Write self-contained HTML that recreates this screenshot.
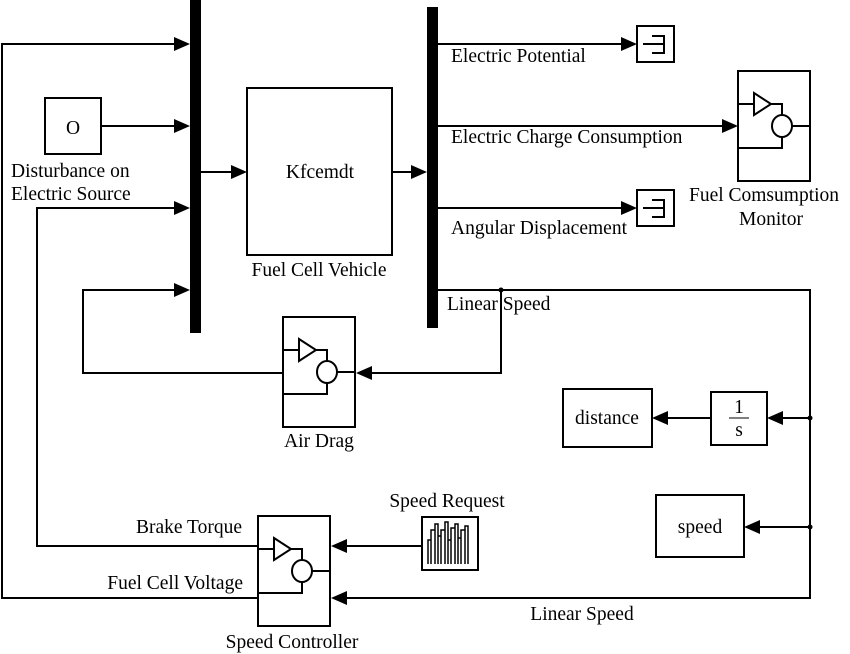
<!DOCTYPE html>
<html><head><meta charset="utf-8"><style>
html,body{margin:0;padding:0;background:#fff}
svg{display:block}
text{font-family:"Liberation Serif",serif;font-size:19.5px;fill:#000}
.m{text-anchor:middle}.e{text-anchor:end}
</style></head><body>
<svg width="850" height="654" viewBox="0 0 850 654" xmlns="http://www.w3.org/2000/svg">
<defs>
<g id="sub" fill="none" stroke="#000" stroke-width="2">
<rect x="0" y="0" width="72" height="110" fill="#fff"/>
<path d="M0 33H16M33 33H44V44M54 55H72M44 66V77H0"/>
<path d="M16 22L33 33L16 44Z"/>
<ellipse cx="44" cy="55" rx="10" ry="11"/>
</g>
<g id="scope" fill="none" stroke="#000" stroke-width="2">
<rect x="0" y="0" width="37" height="36" fill="#fff"/>
<path d="M6 18H27M15 10H27V27H15"/>
</g>
</defs>
<g stroke="#000" stroke-width="2" fill="none">
<path d="M180 44H2V598H257"/>
<path d="M101 126H180"/>
<path d="M180 208H37V546H257"/>
<path d="M180 290H83V373H283"/>
<path d="M201 172H237M392 172H418"/>
<path d="M438 44H627M438 126H728M438 208H627"/>
<path d="M438 290H810V598H341"/>
<path d="M501 290V373H365"/>
<path d="M810 418H777M711 418H662M810 527H754"/>
<path d="M478 546H341"/>
<rect x="45" y="98" width="56" height="56" fill="#fff"/>
<rect x="247" y="88" width="145" height="167" fill="#fff"/>
<rect x="563" y="389" width="89" height="58" fill="#fff"/>
<rect x="711" y="392" width="56" height="53" fill="#fff"/>
<rect x="656" y="495" width="88" height="62" fill="#fff"/>
<rect x="422" y="517" width="56" height="53" fill="#fff"/>
</g>
<rect x="190" y="0" width="11" height="333" fill="#000"/>
<rect x="427" y="7" width="11" height="321" fill="#000"/>
<circle cx="501" cy="290" r="2.5" fill="#000"/>
<circle cx="810" cy="418" r="2.5" fill="#000"/>
<circle cx="810" cy="527" r="2.5" fill="#000"/>
<g fill="#000">
<path d="M190 44l-16-7v14z"/>
<path d="M190 126l-16-7v14z"/>
<path d="M190 208l-16-7v14z"/>
<path d="M190 290l-16-7v14z"/>
<path d="M247 172l-16-7v14z"/>
<path d="M427 172l-16-7v14z"/>
<path d="M637 44l-16-7v14z"/>
<path d="M637 208l-16-7v14z"/>
<path d="M738 126l-16-7v14z"/>
<path d="M356 373l16-7v14z"/>
<path d="M652 418l16-7v14z"/>
<path d="M767 418l16-7v14z"/>
<path d="M744 527l16-7v14z"/>
<path d="M331 546l16-7v14z"/>
<path d="M331 598l16-7v14z"/>
</g>
<use href="#sub" x="283" y="317"/>
<use href="#sub" x="738" y="71"/>
<use href="#sub" x="258" y="516"/>
<use href="#scope" x="637" y="26"/>
<use href="#scope" x="637" y="190"/>
<path d="M428 564V540h3v24V530h4v34V524h3v40V536h3v28V530h4v34V522h3v42V540h3v24V528h4v36V524h3v40V538h3v26V530h4v34V526h3v38" stroke="#000" stroke-width="1.5" fill="none"/>
<g>
<text x="73" y="134" class="m">O</text>
<text x="11" y="177">Disturbance on</text>
<text x="11" y="200">Electric Source</text>
<text x="320" y="178" class="m">Kfcemdt</text>
<text x="319" y="276" class="m">Fuel Cell Vehicle</text>
<text x="451" y="62">Electric Potential</text>
<text x="451" y="143">Electric Charge Consumption</text>
<text x="451" y="234">Angular Displacement</text>
<text x="764" y="201" class="m">Fuel Comsumption</text>
<text x="771" y="225" class="m">Monitor</text>
<text x="447" y="310">Linear Speed</text>
<text x="319" y="447" class="m">Air Drag</text>
<text x="607" y="424" class="m">distance</text>
<text x="739" y="413" class="m">1</text>
<line x1="729" y1="418" x2="749" y2="418" stroke="#000" stroke-width="1"/>
<text x="739" y="436" class="m">s</text>
<text x="700" y="533" class="m">speed</text>
<text x="447" y="507" class="m">Speed Request</text>
<text x="242" y="533" class="e">Brake Torque</text>
<text x="243" y="589" class="e">Fuel Cell Voltage</text>
<text x="582" y="620" class="m">Linear Speed</text>
<text x="292" y="648" class="m">Speed Controller</text>
</g>
</svg>
</body></html>
